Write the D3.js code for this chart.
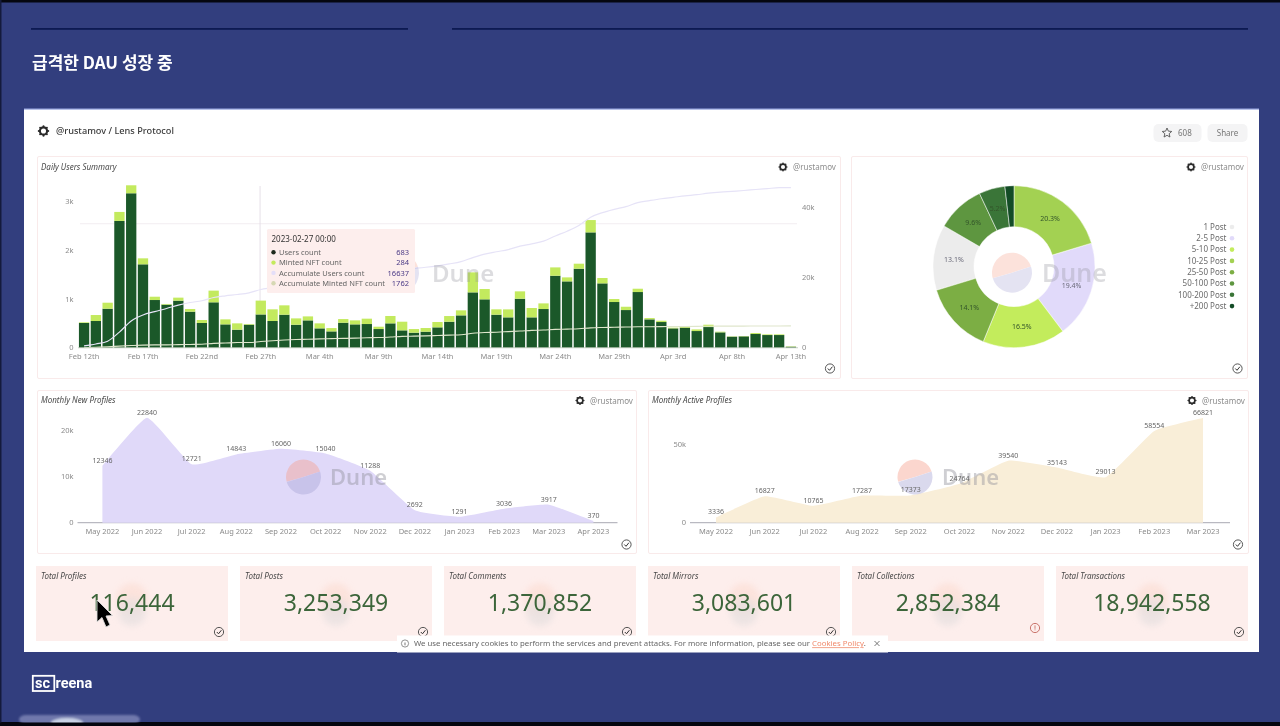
<!DOCTYPE html>
<html><head><meta charset="utf-8">
<script src="https://cdn.jsdelivr.net/npm/d3@7"></script>
<style>
html,body{margin:0;padding:0;background:#000;overflow:hidden}
svg{display:block;font-family:"Noto Sans","Open Sans",sans-serif;filter:blur(.45px)}
.tick{font-size:7.5px;fill:#8b8b8b}
.ttl{font-size:8px;font-style:italic;fill:#4a4a4a}
.usr{font-size:8px;fill:#8d8d8d}
.val{font-size:7px;fill:#666}
</style></head><body>
<svg id="c" width="1280" height="726"></svg>
<script>
// ---- daily chart data
const dayTickLabels=["Feb 12th","Feb 17th","Feb 22nd","Feb 27th","Mar 4th","Mar 9th","Mar 14th","Mar 19th","Mar 24th","Mar 29th","Apr 3rd","Apr 8th","Apr 13th"];
const usersCount=[507,548,801,2603,3171,1712,979,884,966,740,507,932,479,370,473,683,548,678,472,561,397,335,513,479,486,383,500,356,308,329,418,534,664,1136,993,678,623,1006,623,794,1478,1362,1622,2368,1321,938,773,1143,582,527,397,411,342,424,315,226,233,281,260,260,20];
const mintedCount=[14,123,123,185,164,123,68,14,62,55,62,240,103,130,14,284,240,192,130,82,103,68,75,82,110,48,151,178,75,75,110,116,103,411,212,110,164,151,192,116,171,82,103,253,110,62,68,68,27,27,14,20,34,48,14,7,7,20,14,14,7];
const accumulateUsers=[507,1055,1856,4459,7630,9342,10321,11205,12171,12911,13418,14350,14829,15199,15672,16637,17185,17863,18335,18896,19293,19628,20141,20620,21106,21489,21989,22345,22653,22982,23400,23934,24598,25734,26727,27405,28028,29034,29657,30451,31929,33291,34913,37281,38602,39540,40313,41456,42038,42565,42962,43373,43715,44139,44454,44680,44913,45194,45454,45714,45734];
const accumulateMinted=[14,137,260,445,609,732,800,814,876,931,993,1233,1336,1466,1480,1762,2004,2196,2326,2408,2511,2579,2654,2736,2846,2894,3045,3223,3298,3373,3483,3599,3702,4113,4325,4435,4599,4750,4942,5058,5229,5311,5414,5667,5777,5839,5907,5975,6002,6029,6043,6063,6097,6145,6159,6166,6173,6193,6207,6221,6228];
const leftTicks=[0,1000,2000,3000];
const rightTicks=[0,20000,40000];
const tooltipRows=[["Users count","683","#1d2a1d","#4b3a86"],["Minted NFT count","284","#c4ea5c","#4b3a86"],["Accumulate Users count","16637","#e4def8","#4b3a86"],["Accumulate Minted NFT count","1762","#d6d8b4","#4b3a86"]];
// ---- donut data
const postLabels=["1 Post","2-5 Post","5-10 Post","10-25 Post","25-50 Post","50-100 Post","100-200 Post","+200 Post"];
const postShares=[13.1,19.4,16.5,20.3,14.1,9.6,5.2,1.8];
const postColors=["#ececec","#e1dafa","#c3ec5c","#a3d152","#7cae44","#5e9640","#3a7538","#134c26"];
// ---- monthly data
const newMonths=["May 2022","Jun 2022","Jul 2022","Aug 2022","Sep 2022","Oct 2022","Nov 2022","Dec 2022","Jan 2023","Feb 2023","Mar 2023","Apr 2023"];
const newProfiles=[12346,22840,12721,14843,16060,15040,11288,2692,1291,3036,3917,370];
const activeMonths=["May 2022","Jun 2022","Jul 2022","Aug 2022","Sep 2022","Oct 2022","Nov 2022","Dec 2022","Jan 2023","Feb 2023","Mar 2023"];
const activeProfiles=[3336,16827,10765,17287,17373,24764,39540,35143,29013,58554,66821];
// ---- counters
const counterTitles=["Total Profiles","Total Posts","Total Comments","Total Mirrors","Total Collections","Total Transactions"];
const counterValues=["116,444","3,253,349","1,370,852","3,083,601","2,852,384","18,942,558"];

const svg=d3.select("#c");
const defs=svg.append("defs");
const blur=(id,s)=>defs.append("filter").attr("id",id).attr("x","-30%").attr("y","-30%").attr("width","160%").attr("height","160%").append("feGaussianBlur").attr("stdDeviation",s);
blur("b03",.2);blur("b1",1);blur("b4",3);
const rect=(p,x,y,w,h,f,o={})=>{const r=p.append("rect").attr("x",x).attr("y",y).attr("width",w).attr("height",h).attr("fill",f);for(const k in o)r.attr(k,o[k]);return r;};
const text=(p,x,y,s,c,o={})=>{const t=p.append("text").attr("x",x).attr("y",y).attr("class",c||null).text(s);for(const k in o)t.attr(k,o[k]);return t;};

// slide
rect(svg,0,0,1280,726,"#323e7e");
rect(svg,0,0,1280,2.5,"#05060f");
rect(svg,0,722,1280,4,"#05060f");
rect(svg,0,0,1.5,726,"#141a3c");
rect(svg,31,28,377,1.8,"#0d1a52");
rect(svg,452,28,796,1.8,"#0d1a52");
text(svg,32,68.5,"급격한 DAU 성장 중",null,{"font-size":17,"font-weight":700,fill:"#fff","font-family":"'Noto Sans CJK KR',sans-serif"});
// logo
const lg=svg.append("g");
rect(lg,32.8,675.8,21.5,15.2,"none",{stroke:"#fff","stroke-width":1.8});
text(lg,35,688,"sc",null,{"font-size":14.5,"font-weight":700,fill:"#fff","font-family":"Roboto,sans-serif"});
text(lg,55.5,687.5,"reena",null,{"font-size":14.5,"font-weight":700,fill:"#fff","font-family":"Roboto,sans-serif"});
// bottom player pill
const pill=svg.append("g").attr("filter","url(#b1)");
rect(pill,19,715,121,9,"#6f78ac",{rx:7});
pill.append("ellipse").attr("cx",67).attr("cy",723).attr("rx",16).attr("ry",5).attr("fill","#c9d2e6");
rect(svg,0,722.5,1280,3.5,"#05060f");

// white card
rect(svg,24,109,1235,543,"#fff");
rect(svg,24,108.5,1235,1.2,"#9aa8e2");
const gearPts=d3.range(8);
function gear(p,cx,cy,r){
  const g=p.append("g").attr("transform",`translate(${cx},${cy})`).attr("filter","url(#b03)");
  g.append("circle").attr("r",r*.72).attr("fill","none").attr("stroke","#2b2b2b").attr("stroke-width",r*.42);
  g.selectAll("circle.t").data(gearPts).join("circle").attr("r",r*.2).attr("fill","#2b2b2b").attr("cx",d=>r*.95*Math.cos(d*Math.PI/4)).attr("cy",d=>r*.95*Math.sin(d*Math.PI/4));
}
gear(svg,43.5,131,5);
text(svg,56,134,"@rustamov / Lens Protocol",null,{"font-size":9.2,"font-weight":500,fill:"#3a3a3a"});
rect(svg,1153.5,124,48,18,"#f4f4f5",{rx:5});
rect(svg,1207.5,124,40,18,"#f4f4f5",{rx:5});
const starPts=d3.range(10).map(i=>{const a=-Math.PI/2+i*Math.PI/5,r=i%2?2.3:5;return [1167+r*Math.cos(a),133+r*Math.sin(a)];});
svg.append("path").attr("d",d3.line()(starPts)+"Z").attr("fill","none").attr("stroke","#555").attr("stroke-width",.9);
text(svg,1178,136,"608",null,{"font-size":8,fill:"#777"});
text(svg,1227.5,136,"Share",null,{"font-size":8,fill:"#777","text-anchor":"middle"});

function check(p,x,y,warn){
  const g=p.append("g").attr("transform",`translate(${x},${y})`);
  g.append("circle").attr("r",4.6).attr("fill","none").attr("stroke",warn?"#c4665e":"#444").attr("stroke-width",.9);
  if(warn){rect(g,-.4,-2.6,.8,3.4,"#c4665e");rect(g,-.4,1.4,.8,.9,"#c4665e");}
  else g.append("path").attr("d","M-2.2,0L-.5,1.8L2.4,-1.8").attr("fill","none").attr("stroke","#333").attr("stroke-width",1);
}
function panel(x,y,w,h){rect(svg,x+.5,y+.5,w,h,"#fff",{stroke:"#f9eaea","stroke-width":1,rx:1.5});}
function dune(cx,cy,r,tx,size,op){
  const g=svg.append("g").attr("opacity",op);
  const arc=d3.arc().innerRadius(0).outerRadius(r);
  g.append("path").attr("transform",`translate(${cx},${cy})`).attr("d",arc({startAngle:-1.85,endAngle:1.25})).attr("fill","#f6a08c");
  g.append("path").attr("transform",`translate(${cx},${cy})`).attr("d",arc({startAngle:1.25,endAngle:4.43})).attr("fill","#a9a5d6");
  text(g,tx,cy+size*.36,"Dune",null,{"font-size":size,"font-weight":600,fill:"#8f8f98"});
}

// ---- Panel 1: daily
panel(37,156,803,222);
text(svg,41,170,"Daily Users Summary","ttl");
gear(svg,783,167,4);
text(svg,793,170,"@rustamov","usr");
const x1=d3.scaleBand().domain(d3.range(usersCount.length)).range([78.1,796.9]).paddingInner(.125).paddingOuter(.07);
const yL=d3.scaleLinear().domain([0,3000]).range([347.7,201.6]);
const yR=d3.scaleLinear().domain([0,40000]).range([347.7,207.7]);
const xc=i=>x1(i)+x1.bandwidth()/2;
const gP1=svg.append("g");
// crosshair
rect(gP1,80,223.3,717,.9,"#f1ecef");
rect(gP1,259.6,186,.9,161.7,"#e3dde6");
gP1.append("g").selectAll("rect").data(usersCount).join("rect").attr("x",(d,i)=>x1(i)).attr("width",x1.bandwidth()).attr("y",d=>yL(d)).attr("height",d=>yL(0)-yL(d)).attr("fill","#1b5829");
gP1.append("g").selectAll("rect").data(mintedCount).join("rect").attr("x",(d,i)=>x1(i)).attr("width",x1.bandwidth()).attr("y",(d,i)=>yL(usersCount[i]+d)).attr("height",d=>yL(0)-yL(d)).attr("fill","#c3ea5e");
const lineA=d3.line().x((d,i)=>xc(i)).y(d=>yR(d)).curve(d3.curveMonotoneX);
gP1.append("path").attr("d",lineA(accumulateUsers)).attr("fill","none").attr("stroke","#e6e3f7").attr("stroke-width",1.2);
gP1.append("path").attr("d",lineA(accumulateMinted)).attr("fill","none").attr("stroke","#dfe6cc").attr("stroke-width",1.1);
gP1.append("rect").attr("x",78).attr("y",347.4).attr("width",720).attr("height",.8).attr("fill","#b9c6b5");
gP1.selectAll("text.l").data(leftTicks).join("text").attr("class","tick l").attr("x",73.5).attr("y",d=>yL(d)+2.6).attr("text-anchor","end").text(d=>d?d/1000+"k":"0");
gP1.selectAll("text.r").data(rightTicks).join("text").attr("class","tick r").attr("x",802).attr("y",d=>yR(d)+2.6).text(d=>d?d/1000+"k":"0");
gP1.selectAll("text.x").data(dayTickLabels).join("text").attr("class","tick x").attr("x",(d,i)=>xc(i*5)).attr("y",359).attr("text-anchor","middle").text(d=>d);
dune(399,273,20,432,24,.3);
// tooltip
const tip=svg.append("g");
rect(tip,267,229,148,64,"#fdeeed",{rx:1.5});
text(tip,271.5,242,"2023-02-27 00:00",null,{"font-size":8,fill:"#333"});
tooltipRows.forEach((r,i)=>{
  const y=253+i*10.3;
  tip.append("circle").attr("cx",273.5).attr("cy",y-.7).attr("r",2.2).attr("fill",r[2]);
  text(tip,279,y+2,r[0],null,{"font-size":7.5,fill:"#666"});
  text(tip,409,y+2,r[1],null,{"font-size":7.5,fill:r[3],"text-anchor":"end"});
});
check(svg,830,368.5);

// ---- Panel 2: donut
panel(851,156,396,222);
gear(svg,1191,167,4);
text(svg,1201,170,"@rustamov","usr");
const pie=d3.pie().sort((a,b)=>postShares[b]-postShares[a]).value(i=>postShares[i]);
const arcD=d3.arc().innerRadius(40).outerRadius(81);
const gD=svg.append("g").attr("transform","translate(1014,266.7)");
const arcs=pie(d3.range(postShares.length));
gD.selectAll("path").data(arcs).join("path").attr("d",arcD).attr("fill",d=>postColors[d.data]).attr("stroke","#fff").attr("stroke-width",.5);
gD.selectAll("text").data(arcs.filter(d=>postShares[d.data]>3)).join("text").attr("transform",d=>`translate(${arcD.centroid(d)})`).attr("dy",2.5).attr("text-anchor","middle").attr("font-size",7).attr("fill",d=>d.data==0||d.data==1?"#6b6b7a":"#33552a").text(d=>postShares[d.data]+"%");
dune(1012,272.7,20,1042,25,.3);
postLabels.forEach((s,i)=>{
  const y=227+i*11.3;
  text(svg,1226.5,y+2.8,s,null,{"font-size":8,fill:"#6a6a6a","text-anchor":"end"});
  svg.append("circle").attr("cx",1232).attr("cy",y).attr("r",2.3).attr("fill",postColors[i]);
});
check(svg,1237.5,368.5);

// ---- Monthly panels
function monthly(o){
  panel(o.px,390,o.pw,163);
  text(svg,o.px+4,403,o.title,"ttl");
  gear(svg,o.gx,400.5,4);
  text(svg,o.gx+10,403.5,"@rustamov","usr");
  const xs=d3.scalePoint().domain(o.months).range([o.x0,o.x1]);
  const ys=d3.scaleLinear().domain(o.dom).range(o.rng);
  const g=svg.append("g");
  rect(g,o.ax0,522.2,o.ax1-o.ax0,1,"#a9a9b2");
  g.append("path").attr("d",d3.area().x((d,i)=>xs(o.months[i])).y0(ys(0)).y1(d=>ys(d)).curve(d3.curveCardinal.tension(.62))(o.vals)).attr("fill",o.fill);
  dune(o.lx,477,17.5,o.tx,22,o.wop);
  const t=svg.append("g");
  t.selectAll("text.tk").data(o.ticks).join("text").attr("class","tick tk").attr("x",o.ax0-4).attr("y",d=>ys(d)+2.6).attr("text-anchor","end").text(d=>d?d/1000+"k":"0");
  t.selectAll("text.m").data(o.months).join("text").attr("class","tick m").attr("x",d=>xs(d)).attr("y",534).attr("text-anchor","middle").text(d=>d);
  t.selectAll("text.v").data(o.vals).join("text").attr("class","val v").attr("x",(d,i)=>xs(o.months[i])).attr("y",d=>ys(d)-3).attr("text-anchor","middle").text(d=>d);
}
monthly({px:37,pw:599,title:"Monthly New Profiles",gx:580,months:newMonths,vals:newProfiles,x0:102.4,x1:593.4,ax0:77.5,ax1:617.5,dom:[0,20000],rng:[522.7,430.7],ticks:[0,10000,20000],fill:"#e0d9f9",lx:303.5,tx:330,wop:.42});
monthly({px:648,pw:600,title:"Monthly Active Profiles",gx:1192,months:activeMonths,vals:activeProfiles,x0:716,x1:1203,ax0:690,ax1:1230,dom:[0,50000],rng:[522.7,444.3],ticks:[0,50000],fill:"#f9eed8",lx:915,tx:942,wop:.42});
check(svg,626.5,544.5);check(svg,1238,544.5);

// ---- Counters
const cx0=[36,240,444,648,852,1056];
counterTitles.forEach((t,i)=>{
  const x=cx0[i];
  rect(svg,x,566,192,75,"#fdeeec");
  const cxx=x+96;
  svg.append("circle").attr("cx",cxx).attr("cy",599).attr("r",16).attr("fill","#fcdcd2").attr("filter","url(#b4)").attr("opacity",.6);
  svg.append("circle").attr("cx",cxx).attr("cy",612).attr("r",14).attr("fill","#e6e0e0").attr("filter","url(#b4)").attr("opacity",.7);
  text(svg,x+5,579,t,"ttl");
  text(svg,cxx,611,counterValues[i],null,{"font-size":23,fill:"#3c653a","text-anchor":"middle"});
  check(svg,x+183,i==4?628:632,i==4);
});
// cookie banner
const ck=svg.append("g");
rect(ck,397,635.5,491,17,"#fff");
ck.append("circle").attr("cx",405).attr("cy",643.5).attr("r",3.6).attr("fill","none").attr("stroke","#666").attr("stroke-width",.7);
rect(ck,404.6,642.5,.8,2.8,"#555");
const cookieT=text(ck,414,646.3,"We use necessary cookies to perform the services and prevent attacks. For more information, please see our ",null,{"font-size":7.8,fill:"#666"});
cookieT.append("tspan").attr("fill","#f08a6c").attr("text-decoration","underline").text("Cookies Policy");
cookieT.append("tspan").text(".");
ck.append("path").attr("d","M874.5,641L879.5,646M879.5,641L874.5,646").attr("stroke","#555").attr("stroke-width",.8);
// cursor
svg.append("path").attr("d","M97,600L97,622L102,617.5L106,627L110,625L106,616L112.5,615.5Z").attr("fill","#000").attr("stroke","#ddd").attr("stroke-width",.9);
</script>
</body></html>
